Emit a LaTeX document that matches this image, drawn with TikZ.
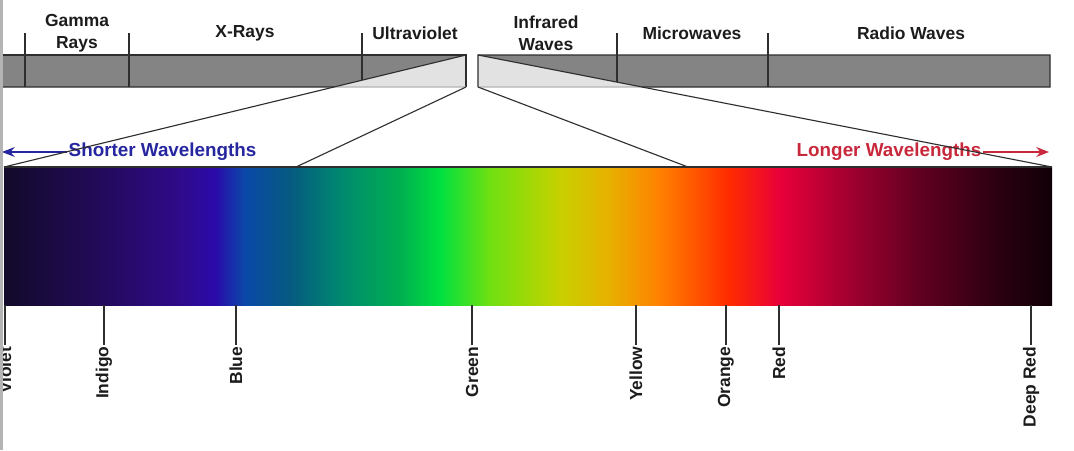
\documentclass[tikz,border=0pt]{standalone}
\usepackage{fontspec}
\setmainfont{Liberation Sans}
\usetikzlibrary{calc, arrows.meta}

\definecolor{bardark}{HTML}{848484}
\definecolor{barlight}{HTML}{E2E2E2}
\definecolor{lineclr}{HTML}{2E2E2E}
\definecolor{txtgray}{HTML}{1C1C1C}
\definecolor{shortblue}{HTML}{2626A0}
\definecolor{longred}{HTML}{C8283C}
\definecolor{framegray}{HTML}{B4B4B4}
% spectrum stops
\definecolor{spA}{HTML}{120A2A}
\definecolor{spB}{HTML}{230A5A}
\definecolor{spC}{HTML}{2F0A8A}
\definecolor{spD}{HTML}{2A0AAA}
\definecolor{spE}{HTML}{0A48A8}
\definecolor{spF}{HTML}{055A80}
\definecolor{spG}{HTML}{008870}
\definecolor{spH}{HTML}{00B050}
\definecolor{spI}{HTML}{00E040}
\definecolor{spJ}{HTML}{70E010}
\definecolor{spK}{HTML}{C8D000}
\definecolor{spL}{HTML}{E8B000}
\definecolor{spM}{HTML}{FF8000}
\definecolor{spN}{HTML}{FF2A00}
\definecolor{spO}{HTML}{E8003A}
\definecolor{spP}{HTML}{A00030}
\definecolor{spQ}{HTML}{600020}
\definecolor{spR}{HTML}{2A0010}
\definecolor{spS}{HTML}{100008}
\pgfdeclarehorizontalshading{spectrum}{100bp}{%
  color(0bp)=(spA); color(25bp)=(spA); color(29.58bp)=(spB);
  color(33.40bp)=(spC); color(35.07bp)=(spD); color(36.50bp)=(spE);
  color(38.65bp)=(spF); color(41.03bp)=(spG); color(43.89bp)=(spH);
  color(45.80bp)=(spI); color(48.19bp)=(spJ); color(51.53bp)=(spK);
  color(53.91bp)=(spL); color(56.30bp)=(spM); color(59.64bp)=(spN);
  color(62.02bp)=(spO); color(65.36bp)=(spP); color(68.70bp)=(spQ);
  color(72.52bp)=(spR); color(75bp)=(spS); color(100bp)=(spS)}

\tikzset{
  bandlbl/.style={align=center, text=txtgray},
  colorlbl/.style={rotate=90, anchor=east, inner sep=1pt, text=txtgray},
  dirlbl/.style={inner sep=1pt, font=\fontsize{13.4}{16}\selectfont\bfseries},
  outline/.style={draw=lineclr, line width=0.8pt},
  tickln/.style={draw=lineclr, line width=1.3pt},
}

\begin{document}
\begin{tikzpicture}[>={Stealth[length=9pt,width=7pt]}, x=0.025cm, y=-0.025cm,
    font=\fontsize{12.4}{15.5}\selectfont\bfseries]
  \useasboundingbox (0,0) rectangle (1074,450);
  % band names above the bar
  \node[bandlbl] (gamma) at (77,33) {Gamma\\Rays};
  \node[bandlbl] (xray) at (245,33) {X-Rays};
  \node[bandlbl] (uv) at (415,33) {Ultraviolet};
  \node[bandlbl] (ir) at (546,33) {Infrared\\Waves};
  \node[bandlbl] (micro) at (692,33) {Microwaves};
  \node[bandlbl] (radio) at (911,33) {Radio Waves};
  % corners of the cut in the bar and of the spectrum
  \coordinate (uvtop) at (466,55);
  \coordinate (uvbot) at (466,87);
  \coordinate (irtop) at (478,55);
  \coordinate (irbot) at (478,87);
  \coordinate (specL) at (4,167);
  \coordinate (specR) at (1052,167);
  \coordinate (inL) at (296,167);
  \coordinate (inR) at (688,167);
  \coordinate (cutL) at ($(uvtop)!0.2857!(specL)$);
  \coordinate (cutR) at ($(irtop)!0.2857!(specR)$);
  % the bar, dark part and light wedges
  \fill[bardark] (0,55) -- (uvtop) -- (cutL) -- (0,87) -- cycle;
  \fill[barlight] (uvtop) -- (uvbot) -- (cutL) -- cycle;
  \fill[bardark] (irtop) -- (1050,55) -- (1050,87) -- (cutR) -- cycle;
  \fill[barlight] (irtop) -- (cutR) -- (irbot) -- cycle;
  \draw[outline] (0,55) -- (uvtop) -- (uvbot);
  \draw[outline] (0,87) -- (cutL);
  \draw[outline] (irbot) -- (irtop) -- (1050,55) -- (1050,87) -- (cutR);
  \draw[barlight!80!black, line width=0.8pt] (cutL) -- (uvbot) (irbot) -- (cutR);
  \foreach \x/\yb in {25/87, 129/87, 362/80, 617/82, 768/87}
    \draw[outline] (\x,33) -- (\x,\yb);
  % spectrum
  \shade[shading=spectrum] (specL) rectangle (1052,305);
  \draw[outline] (specL) -- (specR);
  % wavelength direction labels
  \node[dirlbl, text=shortblue, anchor=west] (short) at (67,152) {Shorter Wavelengths};
  \coordinate (shortend) at (2,152);
  \draw[->, shortblue, line width=1.2pt] (short.west) -- (shortend);
  \node[dirlbl, text=longred, anchor=east] (long) at (983,152) {Longer Wavelengths};
  \coordinate (longend) at (1049,152);
  \draw[->, longred, line width=1.2pt] (long.east) -- (longend);
  % zoom lines from the cut down to the spectrum
  \draw[outline] (uvtop) -- (specL);
  \draw[outline] (uvbot) -- (inL);
  \draw[outline] (irtop) -- (specR);
  \draw[outline] (irbot) -- (inR);
  % colour ticks
  \foreach \x/\name [count=\i] in {5/Violet, 104/Indigo, 236/Blue, 472/Green,
      636/Yellow, 726/Orange, 779/Red, 1031/Deep Red} {
    \node[colorlbl] (col\i) at (\x,345) {\name};
    \draw[tickln] (\x,305) -- (col\i.east);
  }
  % grey strip at the left edge
  \fill[framegray] (0,0) rectangle (3,450);
\end{tikzpicture}
\end{document}
